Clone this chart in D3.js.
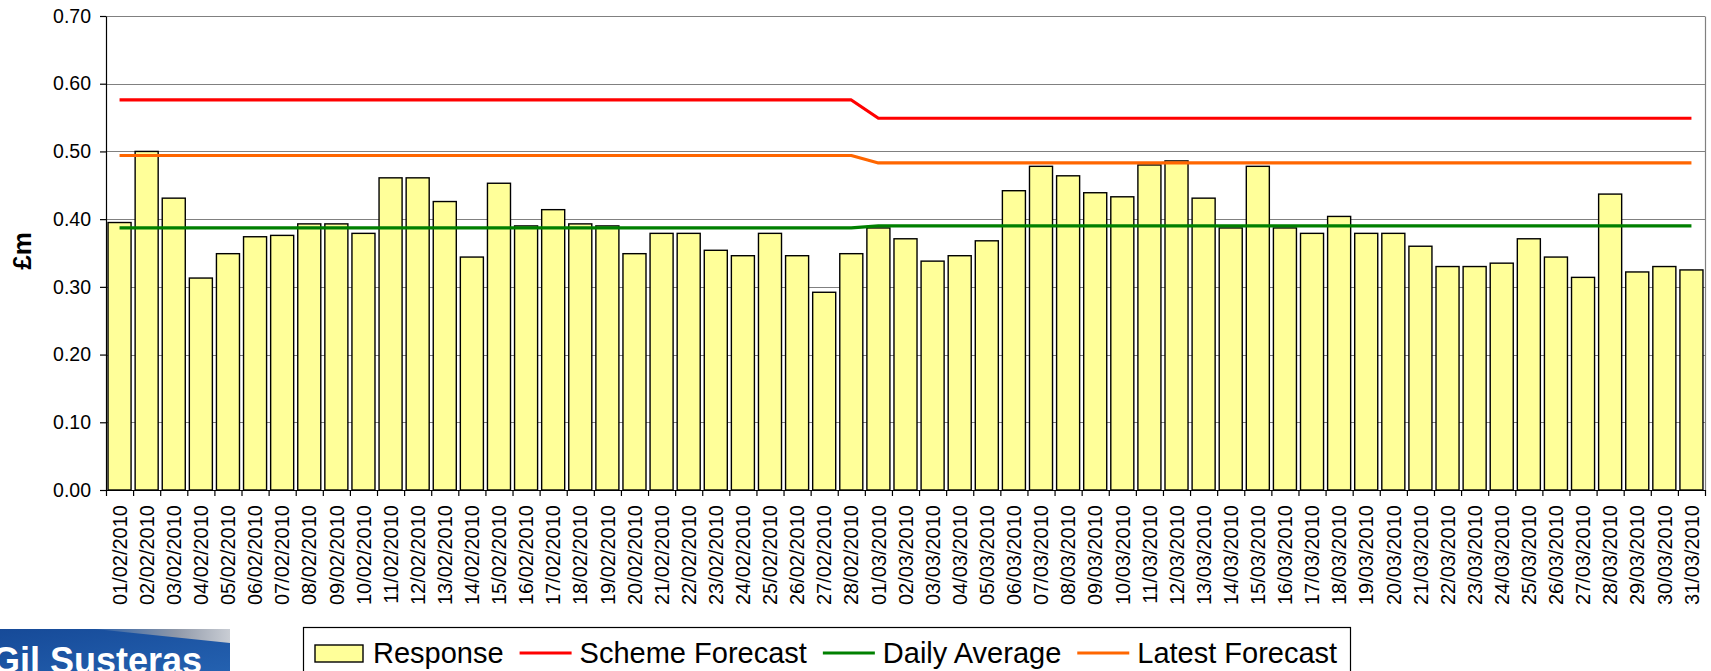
<!DOCTYPE html>
<html>
<head>
<meta charset="utf-8">
<script src="https://cdn.jsdelivr.net/npm/d3@7"></script>
<style>
body { margin: 0; background: #fff; }
svg { display: block; font-family: Arial, "Liberation Sans", sans-serif; }
</style>
</head>
<body>
<svg id="chart"></svg>
<script>
// daily values, Feb + Mar 2010
var days = [
  "01/02/2010","02/02/2010","03/02/2010","04/02/2010","05/02/2010","06/02/2010","07/02/2010",
  "08/02/2010","09/02/2010","10/02/2010","11/02/2010","12/02/2010","13/02/2010","14/02/2010",
  "15/02/2010","16/02/2010","17/02/2010","18/02/2010","19/02/2010","20/02/2010","21/02/2010",
  "22/02/2010","23/02/2010","24/02/2010","25/02/2010","26/02/2010","27/02/2010","28/02/2010",
  "01/03/2010","02/03/2010","03/03/2010","04/03/2010","05/03/2010","06/03/2010","07/03/2010",
  "08/03/2010","09/03/2010","10/03/2010","11/03/2010","12/03/2010","13/03/2010","14/03/2010",
  "15/03/2010","16/03/2010","17/03/2010","18/03/2010","19/03/2010","20/03/2010","21/03/2010",
  "22/03/2010","23/03/2010","24/03/2010","25/03/2010","26/03/2010","27/03/2010","28/03/2010",
  "29/03/2010","30/03/2010","31/03/2010"
];

var response = [
  0.395, 0.500, 0.431, 0.313, 0.349, 0.374, 0.376,
  0.393, 0.393, 0.379, 0.461, 0.461, 0.426, 0.344,
  0.453, 0.390, 0.414, 0.393, 0.390, 0.349, 0.379,
  0.379, 0.354, 0.346, 0.379, 0.346, 0.292, 0.349,
  0.387, 0.371, 0.338, 0.346, 0.368, 0.442, 0.478,
  0.464, 0.439, 0.433, 0.480, 0.486, 0.431, 0.387,
  0.478, 0.387, 0.379, 0.404, 0.379, 0.379, 0.360,
  0.330, 0.330, 0.335, 0.371, 0.344, 0.314, 0.437,
  0.322, 0.330, 0.325
];

var schemeForecast = [
  0.576, 0.576, 0.576, 0.576, 0.576, 0.576, 0.576,
  0.576, 0.576, 0.576, 0.576, 0.576, 0.576, 0.576,
  0.576, 0.576, 0.576, 0.576, 0.576, 0.576, 0.576,
  0.576, 0.576, 0.576, 0.576, 0.576, 0.576, 0.576,
  0.549, 0.549, 0.549, 0.549, 0.549, 0.549, 0.549,
  0.549, 0.549, 0.549, 0.549, 0.549, 0.549, 0.549,
  0.549, 0.549, 0.549, 0.549, 0.549, 0.549, 0.549,
  0.549, 0.549, 0.549, 0.549, 0.549, 0.549, 0.549,
  0.549, 0.549, 0.549
];

var dailyAverage = [
  0.387, 0.387, 0.387, 0.387, 0.387, 0.387, 0.387,
  0.387, 0.387, 0.387, 0.387, 0.387, 0.387, 0.387,
  0.387, 0.387, 0.387, 0.387, 0.387, 0.387, 0.387,
  0.387, 0.387, 0.387, 0.387, 0.387, 0.387, 0.387,
  0.390, 0.390, 0.390, 0.390, 0.390, 0.390, 0.390,
  0.390, 0.390, 0.390, 0.390, 0.390, 0.390, 0.390,
  0.390, 0.390, 0.390, 0.390, 0.390, 0.390, 0.390,
  0.390, 0.390, 0.390, 0.390, 0.390, 0.390, 0.390,
  0.390, 0.390, 0.390
];

var latestForecast = [
  0.494, 0.494, 0.494, 0.494, 0.494, 0.494, 0.494,
  0.494, 0.494, 0.494, 0.494, 0.494, 0.494, 0.494,
  0.494, 0.494, 0.494, 0.494, 0.494, 0.494, 0.494,
  0.494, 0.494, 0.494, 0.494, 0.494, 0.494, 0.494,
  0.483, 0.483, 0.483, 0.483, 0.483, 0.483, 0.483,
  0.483, 0.483, 0.483, 0.483, 0.483, 0.483, 0.483,
  0.483, 0.483, 0.483, 0.483, 0.483, 0.483, 0.483,
  0.483, 0.483, 0.483, 0.483, 0.483, 0.483, 0.483,
  0.483, 0.483, 0.483
];

var yTicks = [0, 0.1, 0.2, 0.3, 0.4, 0.5, 0.6, 0.7];
var legendNames = ["Response", "Scheme Forecast", "Daily Average", "Latest Forecast"];

const width = 1711, height = 671;
const plotLeft = 106, plotRight = 1705, plotTop = 16, plotBottom = 490;
const barFill = "#FFFF99";
const lineColors = { "Scheme Forecast": "#FF0000", "Daily Average": "#008000", "Latest Forecast": "#FF6600" };

var svg = d3.select("#chart").attr("width", width).attr("height", height);
svg.append("rect").attr("width", width).attr("height", height).attr("fill", "#fff");

var x = d3.scaleBand().domain(days).range([plotLeft, plotRight]).paddingInner(0.15).paddingOuter(0.075);
var xEdge = d3.scaleLinear().domain([0, days.length]).range([plotLeft, plotRight]); // category boundaries
var y = d3.scaleLinear().domain([0, 0.7]).range([plotBottom, plotTop]);

var crisp = function(v) { return Math.round(v) + 0.5; };

// gridlines
svg.append("g").selectAll("line")
  .data(yTicks.slice(1))
  .enter()
  .append("line")
    .attr("x1", plotLeft).attr("x2", plotRight)
    .attr("y1", function(d) { return crisp(y(d)); })
    .attr("y2", function(d) { return crisp(y(d)); })
    .attr("stroke", "#808080")
    .attr("stroke-width", 1.2);

svg.append("line")
  .attr("x1", crisp(plotRight)).attr("x2", crisp(plotRight))
  .attr("y1", crisp(y(0.7))).attr("y2", crisp(y(0)))
  .attr("stroke", "#808080")
  .attr("stroke-width", 1.2);

// bars
svg.append("g").selectAll("rect")
  .data(response)
  .enter()
  .append("rect")
    .attr("x", function(d, i) { return x(days[i]); })
    .attr("y", function(d) { return y(d); })
    .attr("width", x.bandwidth())
    .attr("height", function(d) { return y(0) - y(d); })
    .attr("fill", barFill)
    .attr("stroke", "#000")
    .attr("stroke-width", 1.4);

// lines
var line = d3.line()
  .x(function(d, i) { return x(days[i]) + x.bandwidth() / 2; })
  .y(function(d) { return y(d); });

[["Scheme Forecast", schemeForecast], ["Daily Average", dailyAverage], ["Latest Forecast", latestForecast]]
  .forEach(function(s) {
    svg.append("path")
      .datum(s[1])
      .attr("d", line)
      .attr("fill", "none")
      .attr("stroke", lineColors[s[0]])
      .attr("stroke-width", 3.2)
      .attr("stroke-linejoin", "round");
  });

// y axis
var yAxis = d3.axisLeft(y)
  .tickValues(yTicks)
  .tickFormat(d3.format(".2f"))
  .tickSize(6)
  .tickSizeOuter(0)
  .tickPadding(9);

svg.append("g")
  .attr("transform", "translate(" + plotLeft + ",0)")
  .call(yAxis)
  .attr("font-size", 19.5)
  .attr("font-family", null)
  .selectAll("line,path").attr("stroke", "#000").attr("stroke-width", 1.2);

svg.append("text")
  .attr("transform", "translate(31," + 251 + ") rotate(-90)")
  .attr("text-anchor", "middle")
  .attr("font-size", 26)
  .attr("font-weight", "bold")
  .text("£m");

// x axis: ticks between categories
var xTickAxis = d3.axisBottom(xEdge)
  .tickValues(d3.range(days.length + 1))
  .tickFormat("")
  .tickSize(6)
  .tickSizeOuter(0);

svg.append("g")
  .attr("transform", "translate(0," + plotBottom + ")")
  .call(xTickAxis)
  .selectAll("line,path").attr("stroke", "#000").attr("stroke-width", 1.2);

var xAxis = d3.axisBottom(x).tickSize(0).tickSizeOuter(0);

var xg = svg.append("g")
  .attr("transform", "translate(0," + plotBottom + ")")
  .call(xAxis)
  .attr("font-size", 20)
  .attr("font-family", null);
xg.select(".domain").remove();
xg.selectAll("text")
  .attr("transform", "rotate(-90)")
  .attr("x", -15)
  .attr("y", 0)
  .attr("dy", "0.36em")
  .attr("text-anchor", "end")
  .attr("fill", "#000");

// legend
var legend = svg.append("g").attr("font-size", 29);
legend.append("rect")
  .attr("x", 303.5).attr("y", 627.5)
  .attr("width", 1047).attr("height", 70)
  .attr("fill", "#fff")
  .attr("stroke", "#000")
  .attr("stroke-width", 1.2);

var lx = 315;
legendNames.forEach(function(name, i) {
  if (i == 0) {
    legend.append("rect")
      .attr("x", lx).attr("y", 645)
      .attr("width", 48).attr("height", 17)
      .attr("fill", barFill).attr("stroke", "#000").attr("stroke-width", 1.4);
    lx += 58;
  } else {
    legend.append("line")
      .attr("x1", lx).attr("x2", lx + 52)
      .attr("y1", 653).attr("y2", 653)
      .attr("stroke", lineColors[name]).attr("stroke-width", 3.2);
    lx += 60;
  }
  var t = legend.append("text").attr("x", lx).attr("y", 663).text(name);
  lx += t.node().getComputedTextLength() + 16;
});

// logo block bottom-left
var defs = svg.append("defs");
var grad = defs.append("linearGradient").attr("id", "logoBlue").attr("x1", 0).attr("y1", 0).attr("x2", 1).attr("y2", 1);
grad.append("stop").attr("offset", 0).attr("stop-color", "#164a98");
grad.append("stop").attr("offset", 1).attr("stop-color", "#2461b0");
var streak = defs.append("linearGradient").attr("id", "logoStreak").attr("x1", 0).attr("y1", 0).attr("x2", 1).attr("y2", 0);
streak.append("stop").attr("offset", 0).attr("stop-color", "#2a5fa8");
streak.append("stop").attr("offset", 0.6).attr("stop-color", "#8f98a8");
streak.append("stop").attr("offset", 1).attr("stop-color", "#c9cdd4");

svg.append("rect")
  .attr("x", 0).attr("y", 629)
  .attr("width", 230).attr("height", 42)
  .attr("fill", "url(#logoBlue)");
svg.append("path")
  .attr("d", "M95,629 L230,629 L230,643 Z")
  .attr("fill", "url(#logoStreak)");
svg.append("text")
  .attr("x", -8).attr("y", 673)
  .attr("font-size", 36)
  .attr("font-weight", "bold")
  .attr("fill", "#fff")
  .text("Gil Susteras");
</script>
</body>
</html>
